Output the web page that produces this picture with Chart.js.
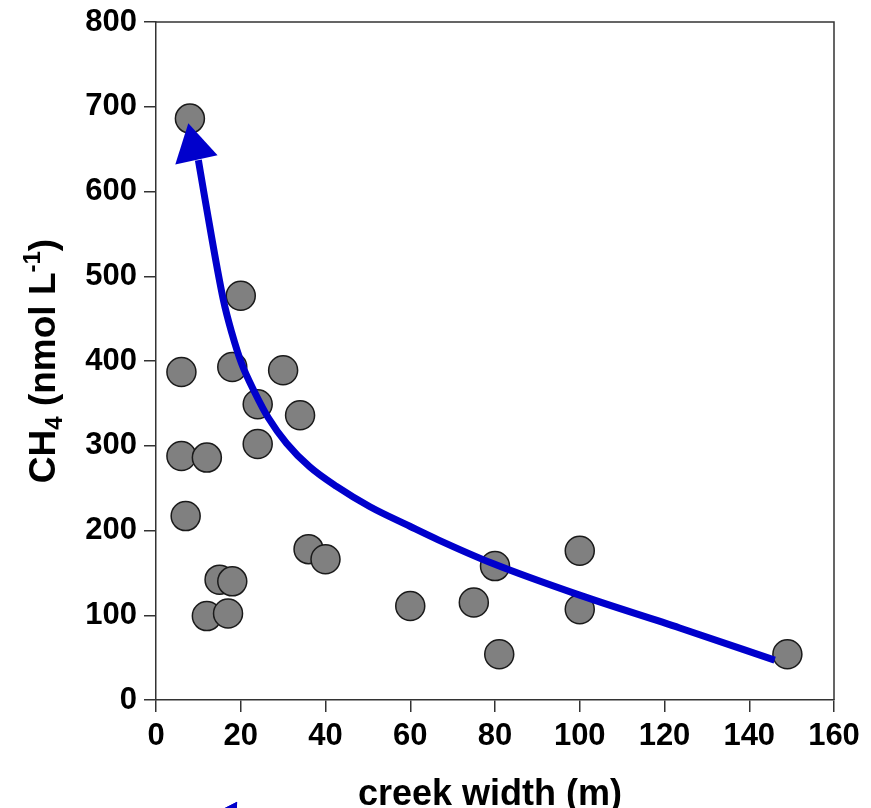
<!DOCTYPE html>
<html><head><meta charset="utf-8">
<script src="https://cdn.jsdelivr.net/npm/chart.js@4/dist/chart.umd.min.js"></script>
<style>html,body{margin:0;padding:0;background:#fff;}canvas{display:block;}</style>
</head><body>
<canvas id="c" width="871" height="808"></canvas>
<script>
// ---- data ----
const creekWidth = [8, 6, 18, 30, 24, 34, 24, 6, 12, 7, 36, 40, 15, 18, 12, 17, 20, 60, 75, 80, 81, 100, 100, 149];
const ch4Values  = [686, 387, 393, 389, 349, 336, 302, 288, 286, 217, 178, 166, 142, 140, 99, 102, 477, 111, 115, 158, 54, 176, 107, 54];

// blue trend curve (drawn by hand in the original)
const trendWidth = [10.0, 11.6, 15.9, 17.9, 20.2, 23.4, 26.5, 30.8, 36.3, 42.6, 50.5, 59.9, 66.6, 79.5, 99.8, 123.6, 146.0];
const trendCH4   = [637, 590, 472, 433, 397, 362, 333, 303, 275, 252, 228, 205, 189, 161, 124, 85, 47];

// arrow head at the upper end of the curve
const arrowWidth = [8.9];
const arrowCH4   = [651.7];
const arrowAngle = [-12.5];
// fragment of another arrow head cut off at the bottom edge
const stubWidth = [16.6];
const stubCH4   = [-139.8];
const stubAngle = [32.7];

const xTicks = [0, 20, 40, 60, 80, 100, 120, 140, 160];
const yTicks = [0, 100, 200, 300, 400, 500, 600, 700, 800];
const xTitle = 'creek width (m)';
const yTitleParts = [
  {t: 'CH', k: 'big'},
  {t: '4', k: 'sub'},
  {t: ' (nmol L', k: 'big'},
  {t: '-1', k: 'sup'},
  {t: ')', k: 'big'}
];

const FONT = "'Liberation Sans', Arial, Helvetica, sans-serif";
const AXIS = '#333333';
const BLUE = '#0000CC';

const framePlugin = {
  id: 'frame',
  afterDraw(chart) {
    const ctx = chart.ctx, a = chart.chartArea;
    ctx.save();
    // top and right sides of the box
    ctx.strokeStyle = AXIS; ctx.lineWidth = 1.5;
    ctx.beginPath();
    ctx.moveTo(a.left, a.top); ctx.lineTo(a.right, a.top); ctx.lineTo(a.right, a.bottom);
    ctx.stroke();
    // x title
    ctx.fillStyle = '#000';
    ctx.font = 'bold 36px ' + FONT;
    ctx.textAlign = 'center'; ctx.textBaseline = 'alphabetic';
    ctx.fillText(xTitle, 490, 805);
    // y title with sub/superscript
    ctx.translate(42, (a.top + a.bottom) / 2);
    ctx.rotate(-Math.PI / 2);
    const fonts = {big: 'bold 37px ' + FONT, sub: 'bold 24px ' + FONT, sup: 'bold 24px ' + FONT};
    const shift = {big: 0, sub: 7, sup: -15};
    let total = 0;
    yTitleParts.forEach(p => { ctx.font = fonts[p.k]; p.w = ctx.measureText(p.t).width; total += p.w; });
    let x = -total / 2;
    ctx.textAlign = 'left';
    yTitleParts.forEach(p => {
      ctx.font = fonts[p.k];
      ctx.fillText(p.t, x, 13 + shift[p.k]);
      x += p.w;
    });
    ctx.restore();
    // cut-off arrow fragment at the bottom edge
    const xs = chart.scales.x, ys = chart.scales.y;
    ctx.save();
    ctx.fillStyle = BLUE;
    stubWidth.forEach((w, i) => {
      Chart.helpers.drawPoint(ctx, {pointStyle: 'triangle', radius: 20, rotation: stubAngle[i], borderWidth: 0},
        xs.getPixelForValue(w), ys.getPixelForValue(stubCH4[i]));
      ctx.fill();
    });
    ctx.restore();
  }
};

new Chart(document.getElementById('c'), {
  type: 'scatter',
  data: {
    datasets: [
      {
        label: 'arrow',
        data: arrowWidth.map((x, i) => ({x, y: arrowCH4[i]})),
        pointStyle: 'triangle',
        rotation: arrowAngle[0],
        pointRadius: 25,
        pointBackgroundColor: BLUE,
        pointBorderWidth: 0,
        borderColor: BLUE,
        clip: false,
        order: 0
      },
      {
        label: 'trend',
        data: trendWidth.map((x, i) => ({x, y: trendCH4[i]})),
        showLine: true,
        borderColor: BLUE,
        borderWidth: 7,
        pointRadius: 0,
        cubicInterpolationMode: 'monotone',
        borderCapStyle: 'butt',
        borderJoinStyle: 'round',
        clip: false,
        order: 1
      },
      {
        label: 'CH4',
        data: creekWidth.map((x, i) => ({x, y: ch4Values[i]})),
        pointRadius: 14.5,
        pointBackgroundColor: '#808080',
        pointBorderColor: '#1a1a1a',
        pointBorderWidth: 1.5,
        clip: false,
        order: 2
      }
    ]
  },
  options: {
    responsive: false,
    animation: false,
    events: [],
    devicePixelRatio: 1,
    layout: {padding: {left: 0, right: 37, top: 22, bottom: 0}, autoPadding: false},
    plugins: {legend: {display: false}, tooltip: {enabled: false}},
    scales: {
      x: {
        type: 'linear', min: 0, max: 160,
        afterBuildTicks(s) { s.ticks = xTicks.map(v => ({value: v})); },
        afterFit(s) { s.height = 108; s.paddingLeft = 0; s.paddingRight = 0; },
        grid: {display: true, drawOnChartArea: false, drawTicks: true, tickLength: 12, color: AXIS, lineWidth: 1.5},
        border: {display: true, color: AXIS, width: 1.5},
        ticks: {color: '#000', padding: 6, font: {family: FONT, size: 31, weight: 'bold'}, maxRotation: 0, autoSkip: false},
        title: {display: false}
      },
      y: {
        type: 'linear', min: 0, max: 800,
        afterBuildTicks(s) { s.ticks = yTicks.map(v => ({value: v})); },
        afterFit(s) { s.width = 156; s.paddingTop = 0; s.paddingBottom = 0; },
        grid: {display: true, drawOnChartArea: false, drawTicks: true, tickLength: 12, color: AXIS, lineWidth: 1.5},
        border: {display: true, color: AXIS, width: 1.5},
        ticks: {color: '#000', padding: 7, font: {family: FONT, size: 31, weight: 'bold'}, autoSkip: false},
        title: {display: false}
      }
    }
  },
  plugins: [framePlugin]
});
</script>
</body></html>
